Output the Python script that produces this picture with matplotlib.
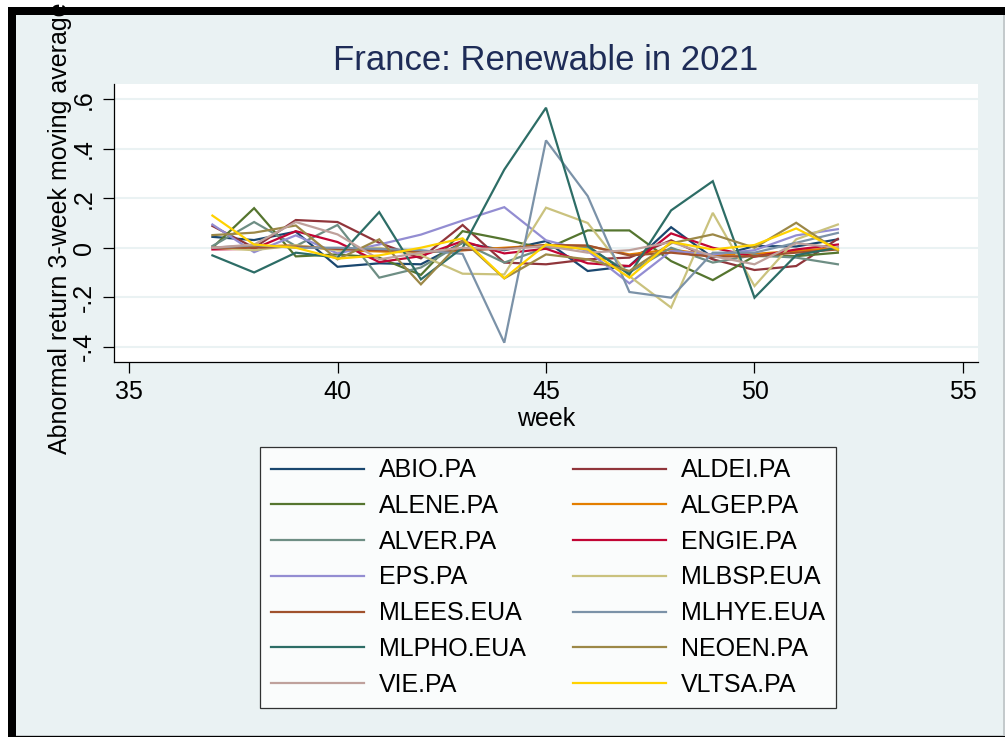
import matplotlib
matplotlib.use("Agg")
import matplotlib.pyplot as plt
from matplotlib.patches import Rectangle

plt.rcParams['font.family'] = ['Liberation Sans', 'DejaVu Sans']

weeks = list(range(37, 53))

ABIO = [0.044, 0.031, 0.065, -0.077, -0.063, -0.067, 0.02, -0.01, 0.027, -0.094, -0.074, 0.083, -0.04, 0.007, 0.005, 0.034]
ALDEI = [0.088, 0.0, 0.112, 0.104, 0.02, -0.043, 0.092, -0.06, -0.067, -0.047, -0.04, 0.03, -0.047, -0.09, -0.074, 0.036]
ALENE = [0.0, 0.16, -0.035, -0.027, -0.04, -0.11, 0.067, 0.034, -0.005, 0.07, 0.07, -0.054, -0.131, -0.034, -0.034, -0.02]
ALGEP = [0.0, 0.005, 0.01, -0.01, -0.015, -0.02, -0.01, 0.0, 0.01, 0.007, -0.027, -0.007, -0.03, -0.025, -0.013, 0.0]
ALVER = [0.007, 0.104, 0.007, 0.092, -0.121, -0.08, 0.02, -0.06, 0.0, 0.0, -0.1, 0.0, -0.06, -0.03, -0.04, -0.067]
ENGIE = [-0.007, -0.004, 0.067, 0.023, -0.058, -0.034, 0.027, -0.023, -0.004, -0.063, -0.074, 0.058, 0.0, -0.036, -0.007, 0.013]
EPS = [0.094, -0.018, 0.05, -0.023, 0.013, 0.053, 0.11, 0.164, 0.03, -0.013, -0.144, -0.013, -0.027, -0.01, 0.05, 0.075]
MLBSP = [0.0, -0.01, 0.01, -0.01, 0.0, -0.03, -0.105, -0.108, 0.162, 0.10, -0.115, -0.242, 0.141, -0.155, 0.034, 0.094]
MLEES = [0.0, 0.0, 0.005, -0.005, -0.01, -0.015, -0.01, -0.004, 0.011, 0.009, -0.031, -0.02, -0.036, -0.034, -0.02, -0.007]
MLHYE = [0.0, 0.01, 0.0, 0.0, -0.005, -0.01, -0.025, -0.384, 0.434, 0.209, -0.179, -0.202, -0.02, -0.02, 0.02, 0.06]
MLPHO = [-0.031, -0.1, -0.02, -0.04, 0.144, -0.128, 0.0, 0.316, 0.566, 0.007, -0.108, 0.151, 0.269, -0.202, -0.03, 0.0]
NEOEN = [0.051, 0.061, 0.09, -0.047, 0.034, -0.148, 0.03, -0.124, -0.027, -0.047, -0.094, 0.018, 0.054, 0.0, 0.101, -0.013]
VIE = [0.0, 0.013, 0.104, 0.054, -0.047, -0.02, 0.0, -0.007, 0.007, -0.02, -0.01, 0.023, -0.034, -0.067, 0.018, 0.0]
VLTSA = [0.13, 0.013, 0.0, -0.044, -0.031, 0.0, 0.038, -0.123, 0.013, -0.007, -0.121, 0.023, -0.007, 0.011, 0.078, -0.007]

names = ["ABIO.PA", "ALDEI.PA", "ALENE.PA", "ALGEP.PA", "ALVER.PA", "ENGIE.PA", "EPS.PA",
         "MLBSP.EUA", "MLEES.EUA", "MLHYE.EUA", "MLPHO.EUA", "NEOEN.PA", "VIE.PA", "VLTSA.PA"]
series = [ABIO, ALDEI, ALENE, ALGEP, ALVER, ENGIE, EPS, MLBSP, MLEES, MLHYE, MLPHO, NEOEN, VIE, VLTSA]
colors = ["#1a476f", "#90353b", "#55752f", "#e37e00", "#6e8e84", "#c10534", "#938dd2",
          "#cac27e", "#a0522d", "#7b92a8", "#2d6d66", "#9c8847", "#bfa19c", "#ffd200"]

xticks = [35, 40, 45, 50, 55]
yticks = [-0.4, -0.2, 0, 0.2, 0.4, 0.6]
ytick_labels = ["-.4", "-.2", "0", ".2", ".4", ".6"]

W, H = 1005, 737
fig = plt.figure(figsize=(W / 100, H / 100), dpi=100)
fig.patch.set_facecolor("white")

def frect(x0, y0, x1, y1, color, z):
    # pixel coords measured from top-left
    fig.patches.append(Rectangle((x0 / W, 1 - y1 / H), (x1 - x0) / W, (y1 - y0) / H,
                                 transform=fig.transFigure, facecolor=color,
                                 edgecolor="none", zorder=z))

frect(8, 7, W, H, "black", -4)           # black band
frect(16, 15, W, 736, "#c4cacc", -3)     # thin gray edge right/bottom
frect(16, 15, 1003, 735, "#eaf2f3", -2)  # graph region

left, right, top, bottom = 114, 978, 84, 362
ax = fig.add_axes([left / W, 1 - bottom / H, (right - left) / W, (bottom - top) / H])
ax.set_facecolor("white")

lines = []
for s, c, n in zip(series, colors, names):
    l, = ax.plot(weeks, s, color=c, lw=1.6, label=n, solid_joinstyle="miter")
    lines.append(l)

ax.set_xlim(34.64, 55.36)
ax.set_ylim(-0.462, 0.662)
ax.set_xticks(xticks)
ax.set_xticklabels([str(t) for t in xticks])
ax.set_yticks(yticks)
ax.set_yticklabels(ytick_labels, rotation=90, va="center")
ax.grid(axis="y", color="#eaf2f3", lw=1.5)
ax.set_axisbelow(True)
for sp in ["top", "right"]:
    ax.spines[sp].set_visible(False)
for sp in ["left", "bottom"]:
    ax.spines[sp].set_color("black")
    ax.spines[sp].set_linewidth(0.9)
ax.tick_params(axis="both", direction="out", length=8, width=0.9, labelsize=18, pad=5, colors="black")

ax.set_xlabel("week", fontsize=18, labelpad=2)
ax.set_ylabel("Abnormal return 3-week moving average", fontsize=18)
ax.yaxis.set_label_coords(-0.049, 0.48)
ax.set_title("France: Renewable in 2021", fontsize=25, color="#1e2c57", pad=10)

order = list(range(0, 14, 2)) + list(range(1, 14, 2))
leg = fig.legend([lines[i] for i in order], [names[i] for i in order], ncol=2,
                 loc="upper center", bbox_to_anchor=(548 / W, 1 - 447 / H),
                 fontsize=18, frameon=True, fancybox=False, edgecolor="black",
                 handlelength=3.72, handletextpad=0.6, columnspacing=1.9,
                 labelspacing=0.47, borderpad=0.45, borderaxespad=0)
leg.get_frame().set_linewidth(0.9)
leg.get_frame().set_facecolor("white")
for lh in leg.get_lines():
    lh.set_linewidth(1.6)

fig.savefig("out.png", dpi=100, facecolor=fig.get_facecolor())
